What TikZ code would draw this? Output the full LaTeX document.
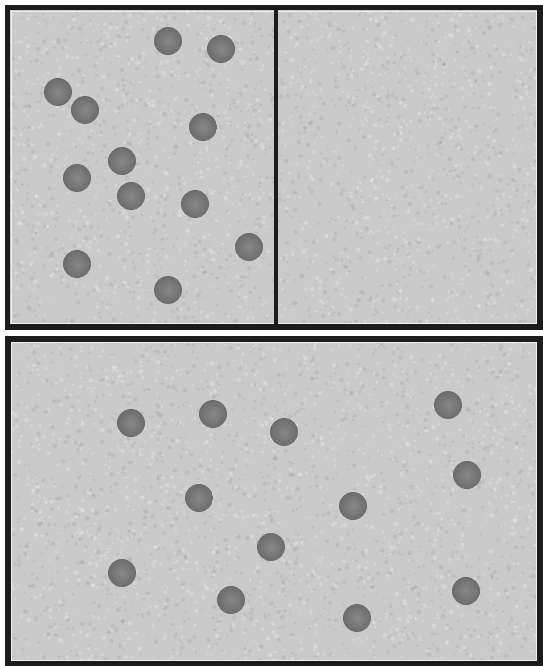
\documentclass[tikz,border=0pt]{standalone}
\definecolor{panelgray}{RGB}{202,202,202}
\definecolor{ballgray}{RGB}{136,136,136}
\definecolor{balledge}{RGB}{108,108,108}
\definecolor{framegray}{RGB}{28,28,28}
\def\ballr{0.28cm}
\def\framew{0.12cm}

\begin{document}
\begin{tikzpicture}[x=0.02cm,y=-0.02cm,line cap=rect]
  \useasboundingbox (0,0) rectangle (543,666);
  \clip (0,0) rectangle (543,666);
  \fill[white] (0,0) rectangle (543,666);
  % the two boxes
  \coordinate (topNW) at (7.5,7.5);  \coordinate (topSE) at (540,327);
  \coordinate (botNW) at (8,338.5);  \coordinate (botSE) at (540,663.5);
  \coordinate (divT) at (276,7.5);   \coordinate (divB) at (276,327);
  \fill[panelgray] (topNW) rectangle (topSE);
  \fill[panelgray] (botNW) rectangle (botSE);
  % grain of the background
  \pgfmathsetseed{4711}
  \begin{scope}
    \clip (topNW) rectangle (topSE) (botNW) rectangle (botSE);
    \foreach \k in {1,...,3200} {
      \fill[white,opacity=0.22] ({4+rnd*536},{4+rnd*660}) circle ({0.8+rnd*1.4});
      \fill[black,opacity=0.05] ({4+rnd*536},{4+rnd*660}) circle ({0.8+rnd*1.6});
    }
  \end{scope}
  \draw[gray!12,line width=0.02cm] (11,11) rectangle (536.5,323.5);
  \draw[gray!12,line width=0.02cm] (11.5,342) rectangle (536.5,660);
  \draw[framegray,line width=\framew] (topNW) rectangle (topSE);
  \draw[framegray,line width=\framew] (botNW) rectangle (botSE);
  \draw[framegray,line width=0.08cm] (divT) -- (divB);
  % particles
  \def\topballs{168/41, 221/49, 58/92, 85/110, 203/127, 122/161, 77/178, 131/196, 195/204, 249/247, 77/264, 168/290}
  \def\botballs{131/423, 213/414, 284/432, 448/405, 467/475, 199/498, 353/506, 271/547, 122/573, 231/600, 357/618, 466/591}
  \foreach \x/\y [count=\n] in \topballs { \coordinate (t\n) at (\x,\y); }
  \foreach \x/\y [count=\n] in \botballs { \coordinate (b\n) at (\x,\y); }
  \foreach \n in {1,...,12} {
    \shade[inner color=ballgray,outer color=balledge] (t\n) circle (\ballr);
    \shade[inner color=ballgray,outer color=balledge] (b\n) circle (\ballr);
  }
\end{tikzpicture}
\end{document}
